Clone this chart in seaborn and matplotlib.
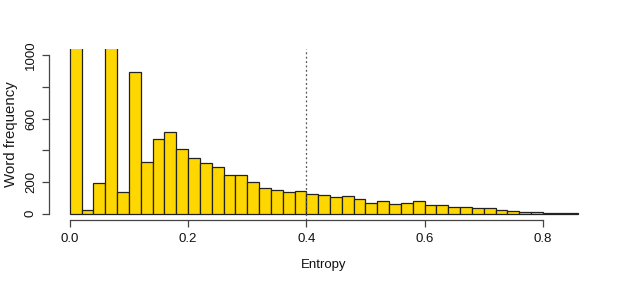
import matplotlib
matplotlib.use("Agg")
import matplotlib.pyplot as plt
import seaborn as sns
import numpy as np
import pandas as pd

# Histogram of entropy values, bins of width 0.02 (counts)
bin_left = [round(0.02 * i, 2) for i in range(43)]
counts = [2600, 27, 197, 1800, 138, 891, 325, 470, 514, 411,
          354, 319, 298, 243, 245, 199, 161, 153, 140, 145,
          122, 121, 103, 115, 94, 69, 80, 61, 71, 80,
          55, 55, 40, 46, 38, 38, 27, 19, 13, 14,
          6, 4, 2]
x_ticks = [0.0, 0.2, 0.4, 0.6, 0.8]
x_tick_labels = ["0.0", "0.2", "0.4", "0.6", "0.8"]
y_ticks = [0, 200, 400, 600, 800, 1000]
y_tick_labels = ["0", "200", "", "600", "", "1000"]
threshold = 0.4
bin_width = 0.02

df = pd.DataFrame({"entropy": [b + bin_width / 2 for b in bin_left], "count": counts})

sns.set_style("white")
plt.rcParams["font.family"] = ["Liberation Sans", "DejaVu Sans"]

fig = plt.figure(figsize=(6.24, 2.82), dpi=100)
ax = fig.add_axes([0.0792, 0.2184, 0.9595 - 0.0792, 0.8277 - 0.2184])

sns.histplot(data=df, x="entropy", weights="count", binwidth=bin_width, binrange=(0, 0.86),
             color="#FFD700", alpha=1.0, edgecolor="#222222", linewidth=0.9, ax=ax)

ax.axvline(threshold, color="#555555", linestyle=(0, (1.5, 2)), linewidth=0.9, zorder=5)

ax.set_xlim(-0.0344, 0.8944)
ax.set_ylim(-41.6, 1041.6)

for s in ["top", "right"]:
    ax.spines[s].set_visible(False)
ax.spines["left"].set_bounds(0, 1000)
ax.spines["bottom"].set_bounds(0, 0.8)
for s in ["left", "bottom"]:
    ax.spines[s].set_color("#444444")
    ax.spines[s].set_linewidth(0.9)

ax.set_xticks(x_ticks)
ax.set_xticklabels(x_tick_labels)
ax.set_yticks(y_ticks)
ax.set_yticklabels(y_tick_labels, rotation=90, va="center")
ax.tick_params(axis="both", direction="out", length=5, width=0.9, color="#444444",
               labelsize=9.5, labelcolor="#111111", left=True, bottom=True)
ax.tick_params(axis="x", pad=4)
ax.tick_params(axis="y", pad=4)

ax.set_xlabel("Entropy", fontsize=9.5, color="#111111", labelpad=10)
ax.set_ylabel("Word frequency", fontsize=10.8, color="#1a1a1a", labelpad=5)

fig.savefig("out.png", dpi=100)
